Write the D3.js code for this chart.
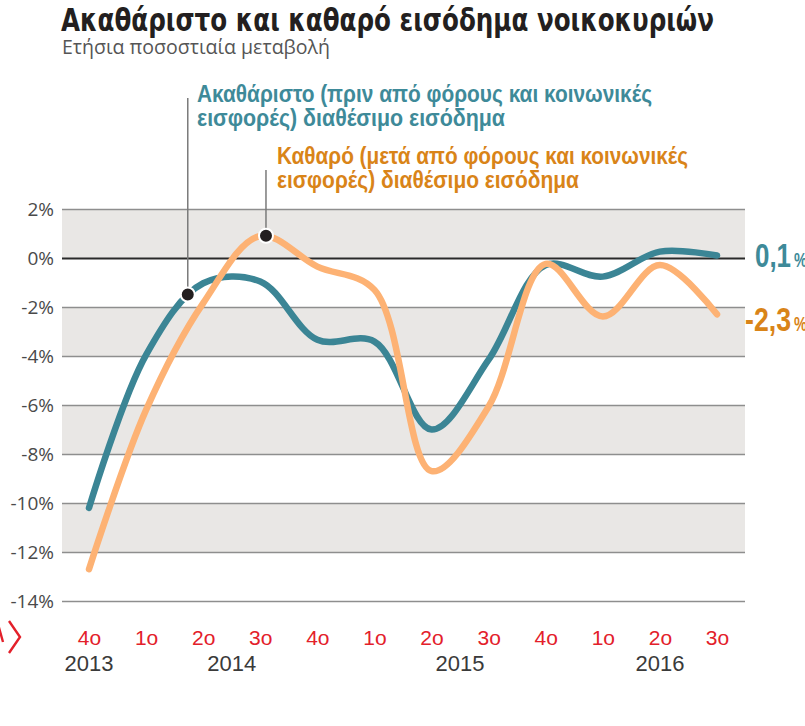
<!DOCTYPE html>
<html>
<head>
<meta charset="utf-8">
<script src="https://cdn.jsdelivr.net/npm/d3@7"></script>
<style>
  body { margin: 0; background: #fff; }
  svg { display: block; }
</style>
</head>
<body>
<svg id="chart" width="805" height="726"></svg>
<script>
// quarters, 4th 2013 .. 3rd 2016
const quarters = ['4ο', '1ο', '2ο', '3ο', '4ο', '1ο', '2ο', '3ο', '4ο', '1ο', '2ο', '3ο'];
const years = [
  {label: '2013', from: 0, to: 0},
  {label: '2014', from: 1, to: 4},
  {label: '2015', from: 5, to: 8},
  {label: '2016', from: 9, to: 11}
];
// annual % change
const gross = [-10.2, -3.95, -1.03, -0.96, -3.34, -3.41, -7.0, -4.15, -0.29, -0.76, 0.26, 0.1];
const net = [-12.7, -6.2, -1.84, 0.9, -0.35, -1.3, -8.7, -6.06, -0.24, -2.39, -0.29, -2.3];
const yTicks = [2, 0, -2, -4, -6, -8, -10, -12, -14];
// where the callout dots sit (fractional quarter index)
const calloutAt = [1.73, 3.1];

const BLUE = '#3b8595', BLUE_TXT = '#3e8a99';
const ORANGE = '#fdb274', ORANGE_TXT = '#d98418';
const RED = '#e3202a';

let svg = d3.select('#chart');

let x = d3.scaleLinear().domain([0, 11]).range([89, 717]);
let y = d3.scaleLinear().domain([-14, 2]).range([601, 209]);
let gridLeft = 62, gridRight = 745;

// title
svg.append('text')
    .attr('x', 61).attr('y', 31)
    .attr('textLength', 653).attr('lengthAdjust', 'spacingAndGlyphs')
    .style('font-family', '"Liberation Sans Narrow", "DejaVu Sans Condensed", sans-serif')
    .style('font-weight', 'bold').style('font-size', '32px').style('fill', '#231f20')
    .text('Ακαθάριστο και καθαρό εισόδημα νοικοκυριών');

svg.append('text')
    .attr('x', 62).attr('y', 54)
    .attr('textLength', 268).attr('lengthAdjust', 'spacingAndGlyphs')
    .style('font-family', '"Liberation Sans Narrow", "Open Sans", sans-serif')
    .style('font-size', '20px').style('fill', '#555')
    .text('Ετήσια ποσοστιαία μεταβολή');

// bands
let bands = svg.append('g');
for (let i = 0; i < yTicks.length - 1; i += 2) {
    bands.append('rect')
        .attr('x', gridLeft).attr('width', gridRight - gridLeft)
        .attr('y', y(yTicks[i])).attr('height', y(yTicks[i + 1]) - y(yTicks[i]))
        .attr('fill', '#e9e7e5');
}

// y axis
let yAxis = svg.append('g')
    .attr('transform', `translate(${gridLeft},0)`)
    .call(d3.axisLeft(y).tickValues(yTicks).tickSize(-(gridRight - gridLeft)).tickPadding(8)
        .tickFormat(d => d + '%'));
yAxis.select('.domain').remove();
yAxis.selectAll('line')
    .attr('stroke', d => d === 0 ? '#2a2a2a' : '#8e8e8e')
    .attr('stroke-width', d => d === 0 ? 2 : 1.6);
yAxis.selectAll('text')
    .style('font-family', '"Open Sans", sans-serif')
    .style('font-size', '19px').style('fill', '#4a4a4a');

// x axis labels
let xAxis = svg.append('g')
    .attr('transform', 'translate(0,645)')
    .call(d3.axisBottom(x).tickValues(d3.range(quarters.length)).tickSize(0).tickPadding(0)
        .tickFormat(i => quarters[i]));
xAxis.select('.domain').remove();
xAxis.selectAll('text')
    .attr('dy', 0)
    .style('font-family', '"Liberation Sans Narrow", sans-serif')
    .style('font-size', '21px').style('fill', RED);

svg.append('g').selectAll('text').data(years).join('text')
    .attr('x', d => (x(d.from) + x(d.to)) / 2).attr('y', 671)
    .attr('text-anchor', 'middle')
    .style('font-family', '"Liberation Sans Narrow", sans-serif')
    .style('font-size', '22px').style('fill', '#3a3a3a')
    .text(d => d.label);

// little red logo fragment at the left edge
svg.append('path')
    .attr('d', 'M-2,624 L3,642 M9,621 L20,637 L9,653')
    .attr('fill', 'none').attr('stroke', RED).attr('stroke-width', 2.4);

// lines
let line = d3.line()
    .x((d, i) => x(i))
    .y(d => y(d))
    .curve(d3.curveCatmullRom);

let grossPath = svg.append('path')
    .datum(gross)
    .attr('d', line)
    .attr('fill', 'none').attr('stroke', BLUE).attr('stroke-width', 6.5)
    .attr('stroke-linecap', 'round');

let netPath = svg.append('path')
    .datum(net)
    .attr('d', line)
    .attr('fill', 'none').attr('stroke', ORANGE).attr('stroke-width', 6.5)
    .attr('stroke-linecap', 'round');

function pointAtX(path, px) {
    let node = path.node();
    let lo = 0, hi = node.getTotalLength();
    for (let k = 0; k < 40; k++) {
        let mid = (lo + hi) / 2;
        if (node.getPointAtLength(mid).x < px) lo = mid; else hi = mid;
    }
    return node.getPointAtLength(lo);
}

// callouts
let callouts = [
    {path: grossPath, at: calloutAt[0], top: 98, color: BLUE_TXT, tx: 197, ty: 102,
     lines: ['Ακαθάριστο (πριν από φόρους και κοινωνικές', 'εισφορές) διαθέσιμο εισόδημα'], widths: [455, 308]},
    {path: netPath, at: calloutAt[1], top: 170, color: ORANGE_TXT, tx: 277, ty: 164,
     lines: ['Καθαρό (μετά από φόρους και κοινωνικές', 'εισφορές) διαθέσιμο εισόδημα'], widths: [411, 302]}
];

callouts.forEach(function (c) {
    let p = pointAtX(c.path, x(c.at));
    svg.append('line')
        .attr('x1', p.x).attr('x2', p.x).attr('y1', c.top).attr('y2', p.y)
        .attr('stroke', '#7a7a7a').attr('stroke-width', 1.5);
    svg.append('circle')
        .attr('cx', p.x).attr('cy', p.y).attr('r', 7)
        .attr('fill', '#231f20').attr('stroke', '#fff').attr('stroke-width', 2);
    c.lines.forEach(function (t, j) {
        svg.append('text')
            .attr('x', c.tx).attr('y', c.ty + j * 24)
            .attr('textLength', c.widths[j]).attr('lengthAdjust', 'spacingAndGlyphs')
            .style('font-family', '"Liberation Sans Narrow", sans-serif')
            .style('font-weight', 'bold').style('font-size', '23px').style('fill', c.color)
            .text(t);
    });
});

// end labels
let endLabels = [
    {x: 755, y: 267, w: 36, color: BLUE_TXT, text: '0,1'},
    {x: 745, y: 331, w: 46, color: ORANGE_TXT, text: '-2,3'}
];
endLabels.forEach(function (d) {
    svg.append('text')
        .attr('x', d.x).attr('y', d.y)
        .attr('textLength', d.w).attr('lengthAdjust', 'spacingAndGlyphs')
        .style('font-family', '"Liberation Sans Narrow", sans-serif')
        .style('font-weight', 'bold').style('font-size', '34px').style('fill', d.color)
        .text(d.text);
    svg.append('text')
        .attr('x', d.x + d.w + 3).attr('y', d.y)
        .attr('textLength', 13).attr('lengthAdjust', 'spacingAndGlyphs')
        .style('font-family', '"Liberation Sans Narrow", sans-serif')
        .style('font-weight', 'bold').style('font-size', '20px').style('fill', d.color)
        .text('%');
});
</script>
</body>
</html>
